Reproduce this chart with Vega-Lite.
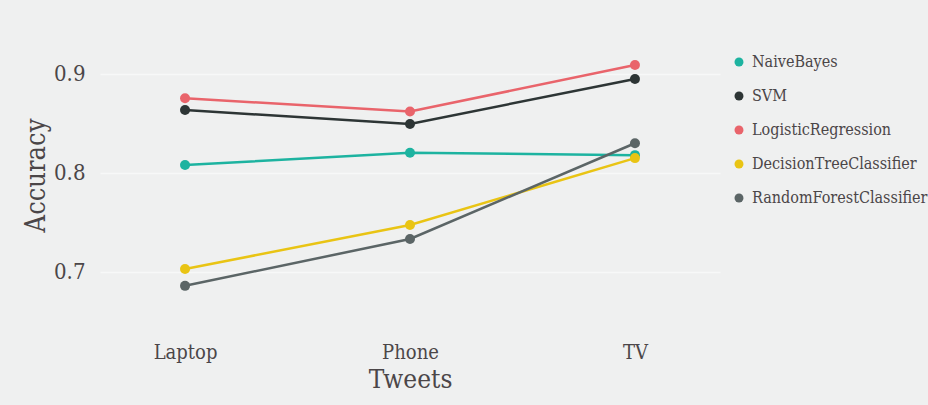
{
  "$schema": "https://vega.github.io/schema/vega-lite/v6.json",
  "autosize": "none",
  "width": 620,
  "height": 280,
  "padding": {"left": 100, "top": 30, "right": 208, "bottom": 95},
  "background": "#eff0f0",
  "config": {
    "view": {"stroke": null},
    "font": "DejaVu Serif Condensed",
    "axis": {"labelColor": "#4b4648", "titleColor": "#4b4648", "titleFontWeight": "normal", "labelFont": "DejaVu Serif Condensed", "titleFont": "DejaVu Serif Condensed"},
    "legend": {"labelFont": "DejaVu Serif Condensed", "labelColor": "#4b4648"}
  },
  "data": {
    "values": [
      {"tweets": "Laptop", "model": "NaiveBayes", "accuracy": 0.808},
      {"tweets": "Phone", "model": "NaiveBayes", "accuracy": 0.8205},
      {"tweets": "TV", "model": "NaiveBayes", "accuracy": 0.818},
      {"tweets": "Laptop", "model": "SVM", "accuracy": 0.8636},
      {"tweets": "Phone", "model": "SVM", "accuracy": 0.8495},
      {"tweets": "TV", "model": "SVM", "accuracy": 0.895},
      {"tweets": "Laptop", "model": "LogisticRegression", "accuracy": 0.8755},
      {"tweets": "Phone", "model": "LogisticRegression", "accuracy": 0.862},
      {"tweets": "TV", "model": "LogisticRegression", "accuracy": 0.909},
      {"tweets": "Laptop", "model": "DecisionTreeClassifier", "accuracy": 0.703},
      {"tweets": "Phone", "model": "DecisionTreeClassifier", "accuracy": 0.7475},
      {"tweets": "TV", "model": "DecisionTreeClassifier", "accuracy": 0.815},
      {"tweets": "Laptop", "model": "RandomForestClassifier", "accuracy": 0.686},
      {"tweets": "Phone", "model": "RandomForestClassifier", "accuracy": 0.7333},
      {"tweets": "TV", "model": "RandomForestClassifier", "accuracy": 0.83}
    ]
  },
  "encoding": {
    "x": {
      "field": "tweets",
      "type": "ordinal",
      "title": "Tweets",
      "scale": {"type": "point", "padding": 0.378},
      "axis": {
        "labelAngle": 0,
        "labelFontSize": 20,
        "labelPadding": 32,
        "titleFontSize": 26,
        "titlePadding": 4,
        "ticks": false,
        "domain": false,
        "grid": false
      }
    },
    "y": {
      "field": "accuracy",
      "type": "quantitative",
      "title": "Accuracy",
      "scale": {"domain": [0.6616, 0.9444], "nice": false, "zero": false},
      "axis": {
        "values": [0.7, 0.8, 0.9],
        "format": ".1f",
        "labelFontSize": 22,
        "labelPadding": 15,
        "titleFontSize": 27,
        "titleX": -50,
        "titleY": 145,
        "ticks": false,
        "domain": false,
        "grid": true,
        "gridColor": "#f7f8f8",
        "gridWidth": 1.5
      }
    },
    "color": {
      "field": "model",
      "type": "nominal",
      "scale": {
        "domain": ["NaiveBayes", "SVM", "LogisticRegression", "DecisionTreeClassifier", "RandomForestClassifier"],
        "range": ["#1db3a0", "#2d3535", "#e9646b", "#e9c414", "#5b6566"]
      },
      "legend": {
        "title": null,
        "orient": "none",
        "legendX": 631,
        "legendY": 24,
        "padding": 0,
        "symbolType": "circle",
        "symbolSize": 80,
        "symbolStrokeWidth": 0,
        "symbolOpacity": 1,
        "labelFontSize": 16,
        "labelOffset": 5,
        "labelLimit": 300,
        "rowPadding": 18
      }
    }
  },
  "layer": [
    {
      "mark": {"type": "line", "strokeWidth": 2.5}
    },
    {
      "mark": {"type": "point", "filled": true, "size": 100, "opacity": 1}
    }
  ]
}
